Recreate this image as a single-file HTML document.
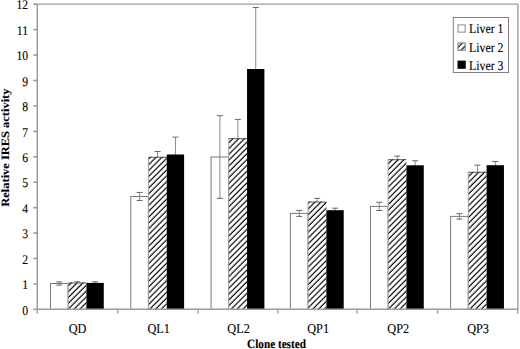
<!DOCTYPE html><html><head><meta charset="utf-8"><style>html,body{margin:0;padding:0;background:#fff;}svg{display:block;}text{font-family:"Liberation Serif",serif;fill:#000;stroke:#000;stroke-width:0.12px;text-rendering:geometricPrecision;}</style></head><body>
<svg width="520" height="349" viewBox="0 0 520 349">
<defs><pattern id="h" patternUnits="userSpaceOnUse" width="4.115" height="4.115" patternTransform="rotate(45)"><rect width="4.115" height="4.115" fill="#fff"/><rect x="2.965" y="0" width="1.15" height="4.115" fill="#000"/></pattern></defs>
<path d="M37.3 4.1H517.9V309.2" fill="none" stroke="#9c9c9c" stroke-width="1.4"/>
<path d="M59.28 281.90V285.10" stroke="#8a8a8a" stroke-width="1" fill="none"/>
<path d="M56.28 281.90h6M56.28 285.10h6" stroke="#666" stroke-width="1" fill="none"/>
<path d="M77.27 281.80V284.20" stroke="#8a8a8a" stroke-width="1" fill="none"/>
<path d="M74.27 281.80h6M74.27 284.20h6" stroke="#666" stroke-width="1" fill="none"/>
<path d="M95.11 281.80V284.00" stroke="#8a8a8a" stroke-width="1" fill="none"/>
<path d="M92.11 281.80h6M92.11 284.00h6" stroke="#666" stroke-width="1" fill="none"/>
<path d="M139.61 192.45V200.55" stroke="#8a8a8a" stroke-width="1" fill="none"/>
<path d="M136.61 192.45h6M136.61 200.55h6" stroke="#666" stroke-width="1" fill="none"/>
<path d="M157.59 151.50V163.10" stroke="#8a8a8a" stroke-width="1" fill="none"/>
<path d="M154.59 151.50h6M154.59 163.10h6" stroke="#666" stroke-width="1" fill="none"/>
<path d="M175.43 137.10V171.90" stroke="#8a8a8a" stroke-width="1" fill="none"/>
<path d="M172.43 137.10h6M172.43 171.90h6" stroke="#666" stroke-width="1" fill="none"/>
<path d="M219.90 115.70V198.30" stroke="#8a8a8a" stroke-width="1" fill="none"/>
<path d="M216.90 115.70h6M216.90 198.30h6" stroke="#666" stroke-width="1" fill="none"/>
<path d="M237.89 119.40V158.00" stroke="#8a8a8a" stroke-width="1" fill="none"/>
<path d="M234.89 119.40h6M234.89 158.00h6" stroke="#666" stroke-width="1" fill="none"/>
<path d="M255.72 7.50V130.50" stroke="#8a8a8a" stroke-width="1" fill="none"/>
<path d="M252.72 7.50h6M252.72 130.50h6" stroke="#666" stroke-width="1" fill="none"/>
<path d="M299.23 210.40V216.40" stroke="#8a8a8a" stroke-width="1" fill="none"/>
<path d="M296.23 210.40h6M296.23 216.40h6" stroke="#666" stroke-width="1" fill="none"/>
<path d="M317.21 198.40V205.80" stroke="#8a8a8a" stroke-width="1" fill="none"/>
<path d="M314.21 198.40h6M314.21 205.80h6" stroke="#666" stroke-width="1" fill="none"/>
<path d="M335.05 208.20V212.20" stroke="#8a8a8a" stroke-width="1" fill="none"/>
<path d="M332.05 208.20h6M332.05 212.20h6" stroke="#666" stroke-width="1" fill="none"/>
<path d="M379.28 202.30V210.50" stroke="#8a8a8a" stroke-width="1" fill="none"/>
<path d="M376.28 202.30h6M376.28 210.50h6" stroke="#666" stroke-width="1" fill="none"/>
<path d="M397.27 156.10V163.30" stroke="#8a8a8a" stroke-width="1" fill="none"/>
<path d="M394.27 156.10h6M394.27 163.30h6" stroke="#666" stroke-width="1" fill="none"/>
<path d="M415.11 160.80V169.80" stroke="#8a8a8a" stroke-width="1" fill="none"/>
<path d="M412.11 160.80h6M412.11 169.80h6" stroke="#666" stroke-width="1" fill="none"/>
<path d="M459.45 213.70V219.10" stroke="#8a8a8a" stroke-width="1" fill="none"/>
<path d="M456.45 213.70h6M456.45 219.10h6" stroke="#666" stroke-width="1" fill="none"/>
<path d="M477.44 165.20V179.40" stroke="#8a8a8a" stroke-width="1" fill="none"/>
<path d="M474.44 165.20h6M474.44 179.40h6" stroke="#666" stroke-width="1" fill="none"/>
<path d="M495.27 161.50V168.90" stroke="#8a8a8a" stroke-width="1" fill="none"/>
<path d="M492.27 161.50h6M492.27 168.90h6" stroke="#666" stroke-width="1" fill="none"/>
<rect x="50.46" y="283.50" width="17.65" height="25.90" fill="none" stroke="#7a7a7a" stroke-width="1"/>
<rect x="68.11" y="282.50" width="18.32" height="26.90" fill="url(#h)"/>
<path d="M68.11 309.40V283.00" fill="none" stroke="#999" stroke-width="0.9"/>
<path d="M68.11 283.00H86.43" fill="none" stroke="#444" stroke-width="0.9"/>
<rect x="86.43" y="282.90" width="17.35" height="26.50" fill="#000"/>
<rect x="130.78" y="196.50" width="17.65" height="112.90" fill="none" stroke="#7a7a7a" stroke-width="1"/>
<rect x="148.43" y="156.80" width="18.32" height="152.60" fill="url(#h)"/>
<path d="M148.43 309.40V157.30" fill="none" stroke="#999" stroke-width="0.9"/>
<path d="M148.43 157.30H166.75" fill="none" stroke="#444" stroke-width="0.9"/>
<rect x="166.75" y="154.50" width="17.35" height="154.90" fill="#000"/>
<rect x="211.08" y="157.00" width="17.65" height="152.40" fill="none" stroke="#7a7a7a" stroke-width="1"/>
<rect x="228.73" y="138.20" width="18.32" height="171.20" fill="url(#h)"/>
<path d="M228.73 309.40V138.70" fill="none" stroke="#999" stroke-width="0.9"/>
<path d="M228.73 138.70H247.05" fill="none" stroke="#444" stroke-width="0.9"/>
<rect x="247.05" y="69.00" width="17.35" height="240.40" fill="#000"/>
<rect x="290.40" y="213.40" width="17.65" height="96.00" fill="none" stroke="#7a7a7a" stroke-width="1"/>
<rect x="308.05" y="201.60" width="18.32" height="107.80" fill="url(#h)"/>
<path d="M308.05 309.40V202.10" fill="none" stroke="#999" stroke-width="0.9"/>
<path d="M308.05 202.10H326.37" fill="none" stroke="#444" stroke-width="0.9"/>
<rect x="326.37" y="210.20" width="17.35" height="99.20" fill="#000"/>
<rect x="370.46" y="206.40" width="17.65" height="103.00" fill="none" stroke="#7a7a7a" stroke-width="1"/>
<rect x="388.11" y="159.20" width="18.32" height="150.20" fill="url(#h)"/>
<path d="M388.11 309.40V159.70" fill="none" stroke="#999" stroke-width="0.9"/>
<path d="M388.11 159.70H406.43" fill="none" stroke="#444" stroke-width="0.9"/>
<rect x="406.43" y="165.30" width="17.35" height="144.10" fill="#000"/>
<rect x="450.63" y="216.40" width="17.65" height="93.00" fill="none" stroke="#7a7a7a" stroke-width="1"/>
<rect x="468.28" y="171.80" width="18.32" height="137.60" fill="url(#h)"/>
<path d="M468.28 309.40V172.30" fill="none" stroke="#999" stroke-width="0.9"/>
<path d="M468.28 172.30H486.60" fill="none" stroke="#444" stroke-width="0.9"/>
<rect x="486.60" y="165.20" width="17.35" height="144.20" fill="#000"/>
<path d="M37.3 4.1V309.2M37.3 309.2H517.9" stroke="#9c9c9c" stroke-width="1.5" fill="none"/>
<path d="M33.3 309.40H37.3" stroke="#999" stroke-width="1.6"/>
<text transform="translate(28.10 314.60) scale(0.88 1)" font-size="13.3" text-anchor="end">0</text>
<path d="M33.3 283.97H37.3" stroke="#999" stroke-width="1.6"/>
<text transform="translate(28.10 289.17) scale(0.88 1)" font-size="13.3" text-anchor="end">1</text>
<path d="M33.3 258.53H37.3" stroke="#999" stroke-width="1.6"/>
<text transform="translate(28.10 263.73) scale(0.88 1)" font-size="13.3" text-anchor="end">2</text>
<path d="M33.3 233.10H37.3" stroke="#999" stroke-width="1.6"/>
<text transform="translate(28.10 238.30) scale(0.88 1)" font-size="13.3" text-anchor="end">3</text>
<path d="M33.3 207.67H37.3" stroke="#999" stroke-width="1.6"/>
<text transform="translate(28.10 212.87) scale(0.88 1)" font-size="13.3" text-anchor="end">4</text>
<path d="M33.3 182.23H37.3" stroke="#999" stroke-width="1.6"/>
<text transform="translate(28.10 187.43) scale(0.88 1)" font-size="13.3" text-anchor="end">5</text>
<path d="M33.3 156.80H37.3" stroke="#999" stroke-width="1.6"/>
<text transform="translate(28.10 162.00) scale(0.88 1)" font-size="13.3" text-anchor="end">6</text>
<path d="M33.3 131.37H37.3" stroke="#999" stroke-width="1.6"/>
<text transform="translate(28.10 136.57) scale(0.88 1)" font-size="13.3" text-anchor="end">7</text>
<path d="M33.3 105.93H37.3" stroke="#999" stroke-width="1.6"/>
<text transform="translate(28.10 111.13) scale(0.88 1)" font-size="13.3" text-anchor="end">8</text>
<path d="M33.3 80.50H37.3" stroke="#999" stroke-width="1.6"/>
<text transform="translate(28.10 85.70) scale(0.88 1)" font-size="13.3" text-anchor="end">9</text>
<path d="M33.3 55.07H37.3" stroke="#999" stroke-width="1.6"/>
<text transform="translate(28.10 60.27) scale(0.88 1)" font-size="13.3" text-anchor="end">10</text>
<path d="M33.3 29.63H37.3" stroke="#999" stroke-width="1.6"/>
<text transform="translate(28.10 34.83) scale(0.88 1)" font-size="13.3" text-anchor="end">11</text>
<path d="M33.3 4.20H37.3" stroke="#999" stroke-width="1.6"/>
<text transform="translate(28.10 9.40) scale(0.88 1)" font-size="13.3" text-anchor="end">12</text>
<path d="M37.30 309.2V313.5" stroke="#999" stroke-width="1.3"/>
<path d="M117.80 309.2V313.5" stroke="#999" stroke-width="1.3"/>
<path d="M198.20 309.2V313.5" stroke="#999" stroke-width="1.3"/>
<path d="M278.00 309.2V313.5" stroke="#999" stroke-width="1.3"/>
<path d="M357.00 309.2V313.5" stroke="#999" stroke-width="1.3"/>
<path d="M437.60 309.2V313.5" stroke="#999" stroke-width="1.3"/>
<path d="M517.70 309.2V313.5" stroke="#999" stroke-width="1.3"/>
<text transform="translate(77.50 333.00) scale(0.91 1)" font-size="13.5" text-anchor="middle">QD</text>
<text transform="translate(158.70 333.00) scale(0.91 1)" font-size="13.5" text-anchor="middle">QL1</text>
<text transform="translate(238.55 333.00) scale(0.91 1)" font-size="13.5" text-anchor="middle">QL2</text>
<text transform="translate(318.10 333.00) scale(0.91 1)" font-size="13.5" text-anchor="middle">QP1</text>
<text transform="translate(398.20 333.00) scale(0.91 1)" font-size="13.5" text-anchor="middle">QP2</text>
<text transform="translate(478.05 333.00) scale(0.91 1)" font-size="13.5" text-anchor="middle">QP3</text>
<text transform="translate(276.5 348.4) scale(0.89 1)" font-size="12.6" text-anchor="middle" font-weight="bold">Clone tested</text>
<text transform="translate(9.2 147.6) rotate(-90) scale(1 0.9)" font-size="12.45" text-anchor="middle" font-weight="bold">Relative IRES activity</text>
<rect x="453.3" y="17.5" width="55.2" height="55.0" fill="#fff" stroke="#808080" stroke-width="1"/>
<rect x="458" y="24.90" width="7.2" height="7.2" fill="#fff" stroke="#888" stroke-width="1"/>
<text transform="translate(469.00 33.40) scale(0.875 1)" font-size="13.5" text-anchor="start">Liver 1</text>
<rect x="458" y="43.00" width="7.2" height="7.2" fill="url(#h)" stroke="#777" stroke-width="1"/>
<text transform="translate(469.00 51.50) scale(0.875 1)" font-size="13.5" text-anchor="start">Liver 2</text>
<rect x="458" y="61.10" width="7.2" height="7.2" fill="#000" stroke="#000" stroke-width="1"/>
<text transform="translate(469.00 69.60) scale(0.875 1)" font-size="13.5" text-anchor="start">Liver 3</text>
</svg></body></html>
